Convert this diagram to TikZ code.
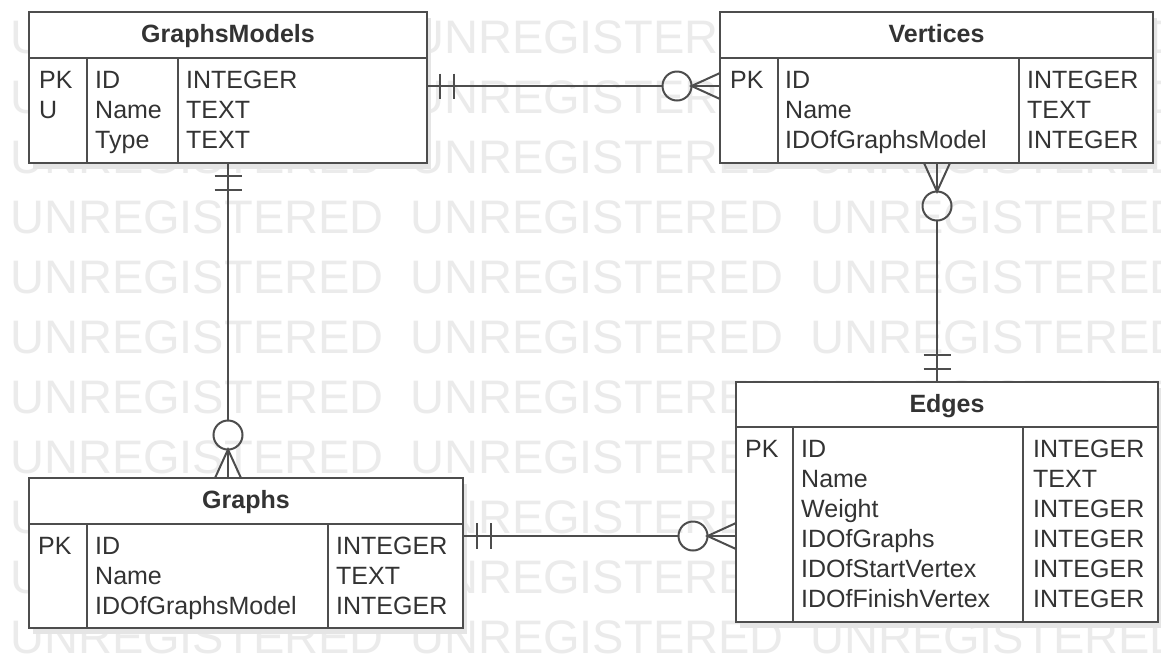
\documentclass[tikz,border=0pt]{standalone}
\usepackage{fontspec}
\setmainfont{Liberation Sans}
\usetikzlibrary{calc,shadows}
\definecolor{linec}{HTML}{4D4D4D}
\definecolor{textc}{HTML}{333333}
\definecolor{wmc}{HTML}{EBEBEB}
\begin{document}
\begin{tikzpicture}[x=1pt,y=-1pt,
  tbl/.style={draw=linec, line width=2pt, fill=white, anchor=north west, inner sep=0pt, outer sep=0pt,
    drop shadow={shadow xshift=4pt, shadow yshift=-6pt, fill=black!10, opacity=1}},
  hdr/.style={draw=linec, line width=2pt, anchor=north west, inner sep=0pt, outer sep=0pt},
  divider/.style={draw=linec, line width=1.6pt},
  cell/.style={anchor=base west, inner sep=0pt, text=textc, font=\fontsize{25}{30}\selectfont},
  title/.style={anchor=base, inner sep=0pt, text=textc, font=\fontsize{25}{30}\selectfont\bfseries},
  wm/.style={anchor=base west, inner sep=0pt, text=wmc, font=\fontsize{47}{56}\selectfont},
  conn/.style={draw=linec, line width=2pt}]
\useasboundingbox (0,0) rectangle (1161,657);
\fill[white] (0,0) rectangle (1161,657);
% watermark
\begin{scope}
\clip (0,0) rectangle (1161,657);
\foreach \r in {0,...,10} {
  \foreach \c in {0,1,2} {
    \node[wm] (wm-\r-\c) at (10+400*\c, 53+60*\r) {UNREGISTERED};
  }
}
\end{scope}

% ---------- GraphsModels ----------
\node[tbl, minimum width=398pt, minimum height=151pt] (gm) at (29,12) {};
\node[hdr, minimum width=398pt, minimum height=46pt] (gmh) at (29,12) {};
\node[title] (gm-title) at (228,42) {GraphsModels};
\draw[divider] (87,58) -- (87,163);
\draw[divider] (178,58) -- (178,163);
\node[cell] (gm-k1) at (39,88) {PK};
\node[cell] (gm-k2) at (39,118) {U};
\node[cell] (gm-n1) at (95,88) {ID};
\node[cell] (gm-n2) at (95,118) {Name};
\node[cell] (gm-n3) at (95,148) {Type};
\node[cell] (gm-t1) at (186,88) {INTEGER};
\node[cell] (gm-t2) at (186,118) {TEXT};
\node[cell] (gm-t3) at (186,148) {TEXT};

% ---------- Vertices ----------
\node[tbl, minimum width=433pt, minimum height=151pt] (vt) at (720,12) {};
\node[hdr, minimum width=433pt, minimum height=46pt] (vth) at (720,12) {};
\node[title] (vt-title) at (936.5,42) {Vertices};
\draw[divider] (778,58) -- (778,163);
\draw[divider] (1019,58) -- (1019,163);
\node[cell] (vt-k1) at (730,88) {PK};
\node[cell] (vt-n1) at (785,88) {ID};
\node[cell] (vt-n2) at (785,118) {Name};
\node[cell] (vt-n3) at (785,148) {IDOfGraphsModel};
\node[cell] (vt-t1) at (1027,88) {INTEGER};
\node[cell] (vt-t2) at (1027,118) {TEXT};
\node[cell] (vt-t3) at (1027,148) {INTEGER};

% ---------- Graphs ----------
\node[tbl, minimum width=434pt, minimum height=150pt] (gr) at (29,478) {};
\node[hdr, minimum width=434pt, minimum height=46pt] (grh) at (29,478) {};
\node[title] (gr-title) at (246,508) {Graphs};
\draw[divider] (87,524) -- (87,628);
\draw[divider] (328,524) -- (328,628);
\node[cell] (gr-k1) at (38,554) {PK};
\node[cell] (gr-n1) at (95,554) {ID};
\node[cell] (gr-n2) at (95,584) {Name};
\node[cell] (gr-n3) at (95,614) {IDOfGraphsModel};
\node[cell] (gr-t1) at (336,554) {INTEGER};
\node[cell] (gr-t2) at (336,584) {TEXT};
\node[cell] (gr-t3) at (336,614) {INTEGER};

% ---------- Edges ----------
\node[tbl, minimum width=422pt, minimum height=240pt] (ed) at (736,382) {};
\node[hdr, minimum width=422pt, minimum height=45pt] (edh) at (736,382) {};
\node[title] (ed-title) at (947,412) {Edges};
\draw[divider] (793,427) -- (793,622);
\draw[divider] (1023,427) -- (1023,622);
\node[cell] (ed-k1) at (745,457) {PK};
\foreach \n/\t [count=\i] in {ID/INTEGER, Name/TEXT, Weight/INTEGER, IDOfGraphs/INTEGER, IDOfStartVertex/INTEGER, IDOfFinishVertex/INTEGER} {
  \node[cell] (ed-n\i) at (801, 427+30*\i) {\n};
  \node[cell] (ed-t\i) at (1033, 427+30*\i) {\t};
}

% ---------- Connector 1: GraphsModels -- Vertices ----------
\coordinate (c1a) at (gm.east |- 0,86);
\coordinate (c1b) at (vt.west |- 0,86);
\draw[conn] (c1a) -- ($(c1b)+(-57.5,0)$);
\draw[conn] ($(c1a)+(13,-12.5)$) -- ++(0,25);
\draw[conn] ($(c1a)+(27,-12.5)$) -- ++(0,25);
\draw[conn] ($(c1b)+(-43,0)$) circle[radius=14.5pt];
\draw[conn] ($(c1b)+(0,-13)$) -- ($(c1b)+(-28.5,0)$) -- ($(c1b)+(0,13)$);
\draw[conn] ($(c1b)+(-28.5,0)$) -- (c1b);

% ---------- Connector 2: GraphsModels -- Graphs ----------
\coordinate (c2a) at (gm.south -| 228,0);
\coordinate (c2b) at (gr.north -| 228,0);
\draw[conn] (c2a) -- ($(c2b)+(0,-57.5)$);
\draw[conn] ($(c2a)+(-13.5,13)$) -- ++(27,0);
\draw[conn] ($(c2a)+(-13.5,27)$) -- ++(27,0);
\draw[conn] ($(c2b)+(0,-43)$) circle[radius=14.5pt];
\draw[conn] ($(c2b)+(-13,0)$) -- ($(c2b)+(0,-28.5)$) -- ($(c2b)+(13,0)$);
\draw[conn] ($(c2b)+(0,-28.5)$) -- (c2b);

% ---------- Connector 3: Vertices -- Edges ----------
\coordinate (c3a) at (vt.south -| 937,0);
\coordinate (c3b) at (ed.north -| 937,0);
\draw[conn] ($(c3a)+(0,57.5)$) -- (c3b);
\draw[conn] ($(c3b)+(-13.5,-13)$) -- ++(27,0);
\draw[conn] ($(c3b)+(-13.5,-27)$) -- ++(27,0);
\draw[conn] ($(c3a)+(0,43)$) circle[radius=14.5pt];
\draw[conn] ($(c3a)+(-13,0)$) -- ($(c3a)+(0,28.5)$) -- ($(c3a)+(13,0)$);
\draw[conn] ($(c3a)+(0,28.5)$) -- (c3a);

% ---------- Connector 4: Graphs -- Edges ----------
\coordinate (c4a) at (gr.east |- 0,536);
\coordinate (c4b) at (ed.west |- 0,536);
\draw[conn] (c4a) -- ($(c4b)+(-57.5,0)$);
\draw[conn] ($(c4a)+(14,-13)$) -- ++(0,26);
\draw[conn] ($(c4a)+(28,-13)$) -- ++(0,26);
\draw[conn] ($(c4b)+(-43,0)$) circle[radius=14.5pt];
\draw[conn] ($(c4b)+(0,-13)$) -- ($(c4b)+(-28.5,0)$) -- ($(c4b)+(0,13)$);
\draw[conn] ($(c4b)+(-28.5,0)$) -- (c4b);
\end{tikzpicture}
\end{document}
